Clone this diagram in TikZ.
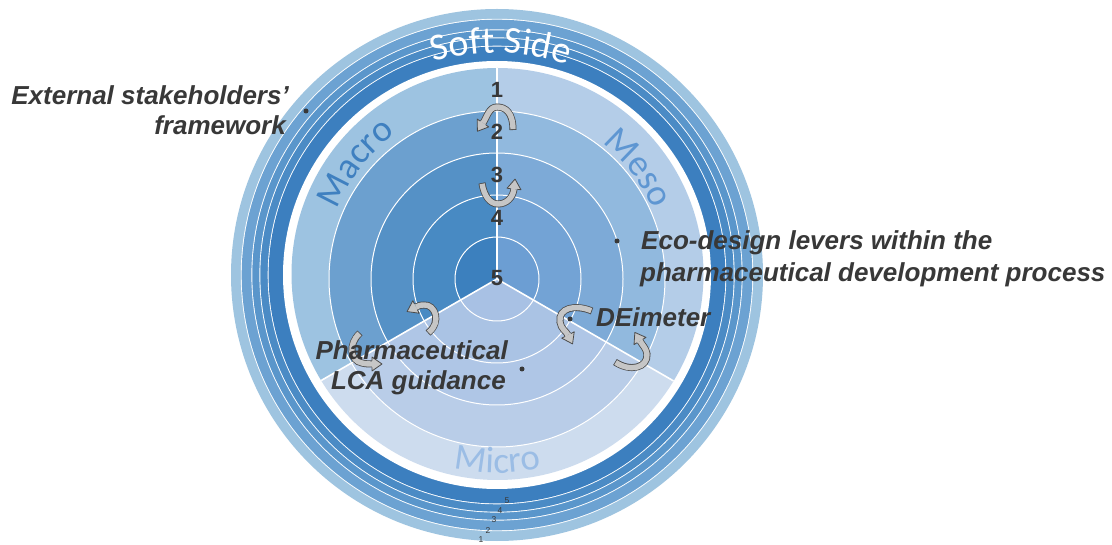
\documentclass[tikz,border=0pt]{standalone}
\usepackage{fontspec}
\setmainfont{Liberation Sans}
\newfontfamily\calfont{Carlito}
\usetikzlibrary{decorations.text}
\definecolor{ringA}{HTML}{9EC4E0}
\definecolor{ringB}{HTML}{6CA2D2}
\definecolor{ringC}{HTML}{5A96CB}
\definecolor{ringD}{HTML}{4B8BC5}
\definecolor{ringE}{HTML}{3C7FBF}
\definecolor{macA}{HTML}{9DC3E1}
\definecolor{macB}{HTML}{6CA0CF}
\definecolor{macC}{HTML}{5591C6}
\definecolor{macD}{HTML}{488AC3}
\definecolor{macE}{HTML}{3C80BE}
\definecolor{mesA}{HTML}{B4CDE8}
\definecolor{mesB}{HTML}{91B9DE}
\definecolor{mesC}{HTML}{7DAAD7}
\definecolor{mesD}{HTML}{73A3D5}
\definecolor{mesE}{HTML}{6C9ED3}
\definecolor{micA}{HTML}{CDDCEE}
\definecolor{micB}{HTML}{B9CDE8}
\definecolor{micC}{HTML}{AFC6E6}
\definecolor{micD}{HTML}{AAC3E4}
\definecolor{micE}{HTML}{A8C1E4}
\definecolor{macT}{HTML}{3F80C0}
\definecolor{mesT}{HTML}{5E96D2}
\definecolor{micT}{HTML}{9BBDE5}
\definecolor{labc}{HTML}{383838}
\definecolor{arrowdark}{HTML}{4A4A4A}
\definecolor{arrowlight}{HTML}{C6C6C6}
\tikzset{
  abody/.style={draw=arrowdark, line width=7pt},
  afill/.style={draw=arrowlight, line width=5.4pt},
  ahead/.pic={
    \fill[arrowlight] (0,7) -- (10,0) -- (0,-7) -- cycle;
    \draw[arrowdark, line width=0.8pt, line join=round] (0,3.4) -- (0,7) -- (10,0) -- (0,-7) -- (0,-3.4);
  },
  lvl/.style={font=\fontsize{22}{22}\selectfont\bfseries, text=labc, inner sep=0pt},
  tinynum/.style={font=\fontsize{8.5}{9}\selectfont, text=labc, inner sep=0pt},
  lab/.style={font=\fontsize{26}{30}\selectfont\bfseries\itshape, text=labc, inner sep=0pt},
  bullet/.style={circle, fill=labc, inner sep=0pt, minimum size=5pt}
}
\newcommand{\garrow}[3]{%
  \draw[abody] #1;
  \draw[afill, shorten <=0.8pt] #1;
  \pic[rotate=#3] at #2 {ahead};
}
\begin{document}
\begin{tikzpicture}[x=1pt,y=1pt]
\useasboundingbox (0,0) rectangle (1112,544);
\fill[white] (0,0) rectangle (1112,544);
\coordinate (R) at (497,269);
\coordinate (P) at (497.5,270);
\coordinate (G) at (497,265);

% outer rings
\fill[ringA] (R) circle (266);
\fill[white] (R) circle (256.2);
\fill[ringB] (R) circle (255.3);
\fill[white] (R) circle (245.6);
\fill[ringC] (R) circle (244.7);
\fill[white] (R) circle (237.6);
\fill[ringD] (R) circle (236.7);
\fill[white] (R) circle (229.3);
\fill[ringE] (R) circle (228.4);
\fill[white] (R) circle (214);

% pie
\begin{scope}
\clip (P) circle (206);
\fill[macA] (G) -- ++(90:420) arc[start angle=90,end angle=210,radius=420] -- cycle;
\fill[mesA] (G) -- ++(-30:420) arc[start angle=-30,end angle=90,radius=420] -- cycle;
\fill[micA] (G) -- ++(210:420) arc[start angle=210,end angle=330,radius=420] -- cycle;
\foreach \r/\a/\b/\c in {168/macB/mesB/micB,126/macC/mesC/micC,84/macD/mesD/micD,42/macE/mesE/micE}{
  \fill[\a] (G) -- ++(90:\r) arc[start angle=90,end angle=210,radius=\r] -- cycle;
  \fill[\b] (G) -- ++(-30:\r) arc[start angle=-30,end angle=90,radius=\r] -- cycle;
  \fill[\c] (G) -- ++(210:\r) arc[start angle=210,end angle=330,radius=\r] -- cycle;
}
\foreach \r in {42,84,126,168} \draw[white, line width=1pt] (G) circle (\r);
\draw[white, line width=1.6pt] (G) -- ++(90:420) (G) -- ++(210:420) (G) -- ++(330:420);
\end{scope}

% curved texts
\path[decorate, decoration={text along path, text align=center, text color=white,
  text={|\calfont\fontsize{38}{40}\selectfont|Soft Side}}]
  ([shift={(122:222)}]R) arc[start angle=122,end angle=56,radius=222];
\path[decorate, decoration={text along path, text align=center, text color=macT,
  text={|\calfont\fontsize{37}{40}\selectfont|Macro}}]
  ([shift={(174:173)}]P) arc[start angle=174,end angle=110,radius=173];
\path[decorate, decoration={text along path, text align=center, text color=mesT,
  text={|\calfont\fontsize{37}{40}\selectfont|Meso}}]
  ([shift={(69:168)}]P) arc[start angle=69,end angle=5,radius=168];
\path[decorate, decoration={text along path, text align=center, text color=micT,
  text={|\calfont\fontsize{37}{40}\selectfont|Micro}}]
  ([shift={(240:199)}]P) arc[start angle=240,end angle=300,radius=199];

% curved arrows
\garrow{(513,414) .. controls (513,432) and (505,437) .. (497,437) .. controls (489,437) and (487,427) .. (483,421)}{(483,421)}{236}
\garrow{(482,361) .. controls (484,348) and (490,340) .. (498,340) .. controls (507,340) and (513,347) .. (514,355)}{(514,355)}{84}
\garrow{(592,233) .. controls (575,240) and (558,236) .. (560,222) .. controls (561,215) and (566,213) .. (568,209)}{(568,209)}{-63}
\garrow{(615,182) .. controls (630,172) and (648,176) .. (647,190) .. controls (646,196) and (643,198) .. (640,203)}{(640,203)}{121}
\garrow{(428,211) .. controls (442,222) and (435,240) .. (424,239) .. controls (420,239) and (418,238) .. (416,237)}{(416,237)}{207}
\garrow{(360,211) .. controls (348,200) and (350,183) .. (362,181) .. controls (366,180) and (369,180) .. (372,180)}{(372,180)}{0}

% level numbers
\node[lvl] (n1) at (497,454) {1};
\node[lvl] (n2) at (497,412) {2};
\node[lvl] (n3) at (497,369) {3};
\node[lvl] (n4) at (497,326) {4};
\node[lvl] (n5) at (497,266) {5};

% ring numbers
\node[tinynum] (t5) at (507,43) {5};
\node[tinynum] (t4) at (500,33) {4};
\node[tinynum] (t3) at (494,24) {3};
\node[tinynum] (t2) at (488,13) {2};
\node[tinynum] (t1) at (481,4) {1};

% labels
\node[lab, anchor=base east] (ext1) at (289,439) {External stakeholders\char39};
\node[lab, anchor=base east] (ext2) at (286,409) {framework};
\node[bullet] (d1) at (306,433) {};
\node[lab, anchor=base west] (eco1) at (641,294) {Eco-design levers within the};
\node[lab, anchor=base west] (eco2) at (640,262) {pharmaceutical development process};
\node[bullet] (d2) at (617,303) {};
\node[lab, anchor=base west] (dei) at (596,217) {DEimeter};
\node[bullet] (d3) at (570,225) {};
\node[lab, anchor=base east] (ph1) at (508,184) {Pharmaceutical};
\node[lab, anchor=base east] (ph2) at (506,154) {LCA guidance};
\node[bullet] (d4) at (522,175) {};
\end{tikzpicture}
\end{document}
